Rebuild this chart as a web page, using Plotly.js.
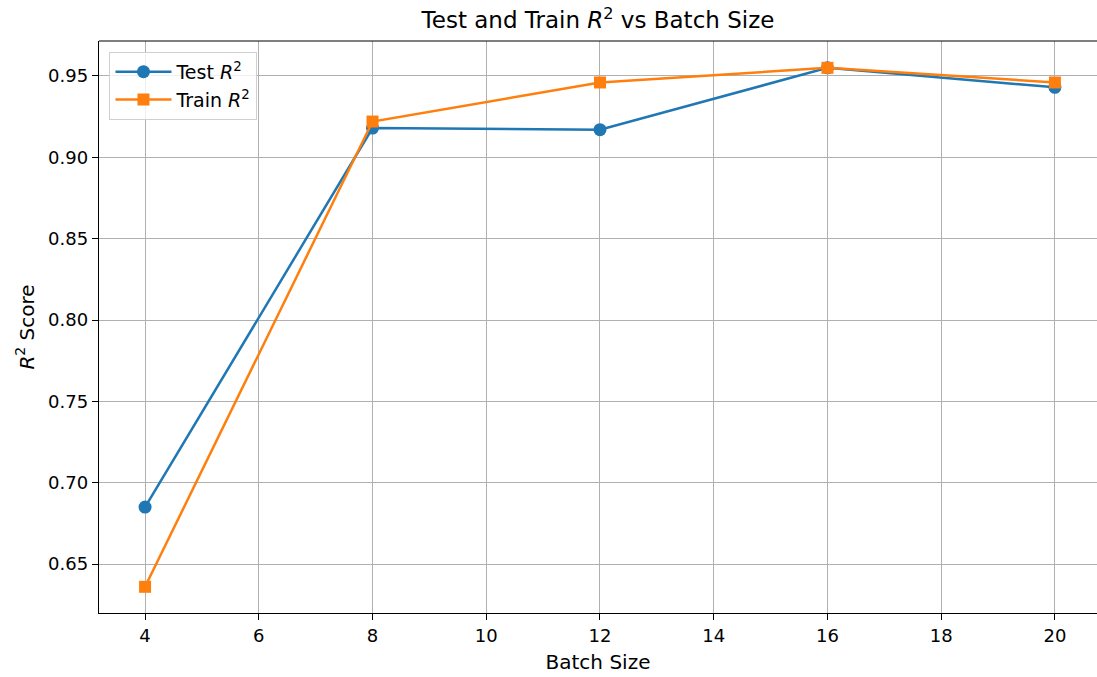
<!DOCTYPE html>
<html>
<head>
<meta charset="utf-8">
<script src="https://cdn.plot.ly/plotly-3.0.1.min.js"></script>
<style>html,body{margin:0;padding:0;background:#fff;}#chart{width:1097px;height:677px;}</style>
</head>
<body>
<div id="chart"></div>
<script>
const batchSizes = [4, 8, 12, 16, 20];
const testR2 = [0.685, 0.918, 0.917, 0.955, 0.943];
const trainR2 = [0.636, 0.922, 0.946, 0.955, 0.946];
const xTicks = [4, 6, 8, 10, 12, 14, 16, 18, 20];
const yTicks = [0.65, 0.70, 0.75, 0.80, 0.85, 0.90, 0.95];

const font = "DejaVu Sans, sans-serif";
const traces = [
  {x: batchSizes, y: testR2, name: "Test <i>R</i><sup>2</sup>", mode: "lines+markers",
   line: {color: "#1f77b4", width: 2.5}, marker: {symbol: "circle", size: 13, color: "#1f77b4"}},
  {x: batchSizes, y: trainR2, name: "Train <i>R</i><sup>2</sup>", mode: "lines+markers",
   line: {color: "#ff7f0e", width: 2.5}, marker: {symbol: "square", size: 12, color: "#ff7f0e"}}
];
const layout = {
  width: 1097, height: 677,
  margin: {l: 99, r: 0, t: 41, b: 64},
  paper_bgcolor: "#fff", plot_bgcolor: "#fff",
  font: {family: font, size: 18, color: "#000"},
  title: {text: "Test and Train <i>R</i><sup>2</sup> vs Batch Size", font: {size: 23}, x: 0.5, xref: "paper", y: 0.982, yanchor: "top"},
  xaxis: {range: [3.19, 20.74], tickvals: xTicks, ticktext: xTicks.map(String),
    showgrid: true, gridcolor: "#b0b0b0", gridwidth: 1, zeroline: false,
    showline: true, linecolor: "#000", linewidth: 1.2, mirror: false,
    ticks: "outside", ticklen: 6, tickcolor: "#000",
    title: {text: "Batch Size", font: {size: 20}, standoff: 10}},
  yaxis: {range: [0.6199, 0.9715], tickvals: yTicks, ticktext: yTicks.map(v => v.toFixed(2)),
    showgrid: true, gridcolor: "#b0b0b0", gridwidth: 1, zeroline: false,
    showline: true, linecolor: "#000", linewidth: 1.2, mirror: false,
    ticks: "outside", ticklen: 6, tickcolor: "#000",
    title: {text: "<i>R</i><sup>2</sup> Score", font: {size: 20}, standoff: 8}},
  shapes: [{type: "line", xref: "paper", yref: "paper", x0: 0, x1: 1, y0: 1, y1: 1,
    line: {color: "#000", width: 1.2}}],
  legend: {x: 0.0105, y: 0.981, xanchor: "left", yanchor: "top",
    bgcolor: "rgba(255,255,255,0.8)", bordercolor: "#d0d0d0", borderwidth: 1,
    font: {size: 19}, itemwidth: 56},
  showlegend: true
};
Plotly.newPlot("chart", traces, layout, {staticPlot: true, displayModeBar: false});
</script>
</body>
</html>
